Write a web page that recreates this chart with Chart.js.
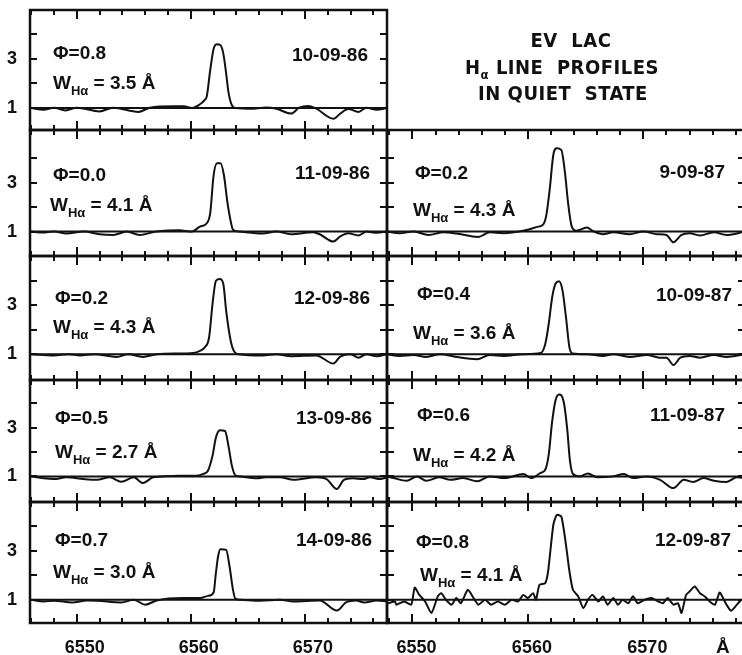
<!DOCTYPE html>
<html><head><meta charset="utf-8">
<script src="https://cdn.jsdelivr.net/npm/chart.js@4/dist/chart.umd.min.js"></script>
<style>
html,body{margin:0;padding:0;background:#fff;}
body{width:742px;height:655px;overflow:hidden;position:relative;
 font-family:'Liberation Sans',Arial,sans-serif;font-weight:bold;color:#111;}
canvas{position:absolute;}
.t{position:absolute;font-size:19px;line-height:20px;white-space:nowrap;}
.t sub{font-size:13px;vertical-align:-6px;line-height:0;}
.ttl{position:absolute;font-family:'DejaVu Sans Condensed','DejaVu Sans',sans-serif;font-size:20px;line-height:20px;white-space:nowrap;transform:translateX(-50%);letter-spacing:0.5px;}
</style></head>
<body>
<script>
// ---------- DATA (wavelength in Å, flux relative to continuum) ----------
const xTickValues = [6550, 6560, 6570];
const xMinorStep = 2;
const yTickLabels = [1, 3];
const yTickMarks = [1, 2, 3, 4];
const continuum = 1;

const dates  = ["10-09-86","11-09-86","12-09-86","13-09-86","14-09-86","9-09-87","10-09-87","11-09-87","12-09-87"];
const phases = ["0.8","0.0","0.2","0.5","0.7","0.2","0.4","0.6","0.8"];
const widths = ["3.5","4.1","4.3","2.7","3.0","4.3","3.6","4.2","4.1"];

const wl_100986 = [6546.0,6547.1,6548.0,6549.0,6550.0,6552.0,6553.2,6555.4,6556.4,6558.5,6559.4,6560.1,6560.8,6561.2,6561.4,6561.7,6562.0,6562.3,6562.6,6562.85,6563.1,6563.3,6563.6,6563.9,6565.5,6566.6,6567.5,6568.8,6569.5,6570.3,6571.0,6572.5,6573.1,6573.8,6574.7,6575.4,6576.3,6577.2];
const fx_100986 = [1.0,0.93,1.01,0.9,1.01,0.86,1.01,0.84,1.01,1.07,1.07,1.0,1.15,1.32,1.48,2.54,3.42,3.6,3.56,3.22,2.4,1.65,1.11,1.0,0.97,1.02,0.97,0.77,1.01,1.08,0.97,0.56,0.77,0.96,0.84,1.01,0.93,1.0];

const wl_110986 = [6546.0,6547.0,6548.0,6549.1,6550.6,6552.0,6553.2,6554.4,6555.5,6557.0,6559.0,6560.1,6560.8,6561.4,6561.7,6562.0,6562.3,6562.6,6562.9,6563.2,6563.5,6563.7,6564.2,6566.3,6567.5,6568.8,6570.7,6571.3,6572.5,6573.1,6573.8,6574.7,6575.4,6576.3,6577.2];
const fx_110986 = [1.0,0.96,1.0,0.92,1.0,0.89,0.86,1.0,0.86,1.0,1.05,1.0,1.2,1.34,1.75,3.31,3.79,3.79,3.31,2.22,1.41,1.07,1.0,0.92,1.0,0.89,0.97,0.89,0.59,0.8,0.93,0.84,1.0,0.95,1.0];

const wl_120986 = [6546.0,6548.0,6549.3,6550.3,6551.5,6553.5,6554.5,6555.8,6557.0,6559.0,6560.2,6560.8,6561.2,6561.6,6561.9,6562.2,6562.55,6562.85,6563.1,6563.5,6563.8,6564.2,6566.3,6567.5,6568.8,6571.0,6572.5,6573.1,6574.0,6574.7,6575.4,6576.3,6577.2];
const fx_120986 = [1.0,0.95,1.0,0.95,1.0,0.89,1.0,0.89,1.0,1.03,1.05,1.14,1.27,1.68,3.04,3.99,4.06,3.86,2.77,1.54,1.11,1.0,0.95,1.0,0.92,0.95,0.62,0.9,1.0,0.86,1.0,0.92,1.0];

const wl_130986 = [6546.0,6547.1,6548.0,6549.1,6550.6,6551.75,6552.9,6553.9,6555.0,6555.8,6556.7,6559.0,6560.5,6561.1,6561.5,6561.9,6562.2,6562.55,6563.0,6563.3,6563.6,6563.9,6564.3,6565.8,6566.6,6567.8,6569.0,6571.0,6571.9,6572.8,6573.4,6574.2,6575.1,6575.7,6576.6,6577.2];
const fx_130986 = [1.0,0.92,0.89,0.96,0.89,0.86,0.96,0.78,0.96,0.73,0.96,1.03,1.03,1.1,1.23,1.84,2.59,2.89,2.86,2.25,1.44,1.05,1.0,0.92,0.96,0.96,0.86,0.96,0.89,0.48,0.85,0.92,0.89,0.96,0.89,0.96];

const wl_140986 = [6546.0,6547.1,6548.0,6549.6,6550.9,6551.8,6553.9,6555.0,6556.0,6557.0,6559.3,6560.8,6561.5,6562.0,6562.2,6562.4,6562.6,6563.1,6563.4,6563.7,6563.9,6564.4,6566.1,6567.8,6569.0,6571.3,6572.8,6573.6,6574.5,6575.2,6576.3,6577.2];
const fx_140986 = [1.0,0.93,0.96,0.89,0.97,0.96,0.89,1.0,0.8,0.97,1.07,1.07,1.16,1.3,2.1,2.8,3.07,3.04,2.35,1.4,1.05,1.0,0.96,1.0,0.93,0.97,0.56,0.89,0.97,0.89,0.97,0.93];

const wl_090987 = [6547.8,6548.9,6550.1,6551.4,6552.7,6553.8,6555.7,6556.7,6557.9,6559.6,6560.9,6561.35,6561.6,6561.9,6562.2,6562.5,6562.9,6563.2,6563.5,6563.8,6564.2,6565.1,6565.7,6566.5,6567.4,6568.8,6570.0,6571.2,6572.0,6572.6,6573.3,6574.0,6574.9,6576.1,6577.2,6578.8];
const fx_090987 = [1.0,0.93,1.0,0.86,0.97,0.92,0.78,0.97,0.93,1.03,1.2,1.3,1.68,2.77,4.13,4.4,4.33,3.45,2.09,1.2,1.03,1.16,1.0,0.89,0.97,0.89,1.0,0.89,0.86,0.56,0.86,0.93,0.84,0.97,0.86,1.0];

const wl_100987 = [6547.8,6548.9,6550.1,6551.2,6552.4,6553.7,6555.6,6556.7,6557.9,6559.6,6561.1,6561.5,6561.8,6562.1,6562.4,6562.7,6563.0,6563.3,6563.6,6563.9,6565.1,6566.5,6567.4,6568.8,6570.3,6571.4,6572.0,6572.6,6573.2,6574.0,6574.9,6576.1,6577.2,6578.8];
const fx_100987 = [1.0,0.93,0.97,0.89,1.0,0.9,0.8,0.97,0.93,1.0,1.05,1.41,2.22,3.31,3.88,3.97,3.59,2.5,1.27,1.03,1.0,0.93,1.0,0.89,0.97,0.86,0.86,0.56,0.86,0.93,0.86,0.97,0.89,1.0];

const wl_110987 = [6547.8,6548.4,6549.5,6550.4,6551.2,6552.3,6553.3,6554.4,6555.6,6556.7,6558.0,6559.6,6560.3,6561.1,6561.5,6561.8,6562.1,6562.4,6562.7,6563.1,6563.4,6563.65,6563.9,6564.5,6565.2,6566.0,6567.4,6568.3,6569.1,6570.3,6571.45,6572.6,6573.5,6574.3,6575.2,6576.1,6577.2,6578.1,6578.8];
const fx_110987 = [1.0,0.93,0.82,1.0,0.82,0.96,0.86,0.93,0.8,1.0,0.93,1.1,0.93,1.14,1.27,1.88,3.24,4.13,4.36,4.06,2.97,1.61,1.1,1.0,1.12,0.96,1.0,1.1,0.93,1.0,0.86,0.52,0.86,0.77,0.93,0.82,0.77,0.96,0.93];

const wl_120987 = [6547.9,6548.5,6548.6,6549.3,6549.9,6550.2,6550.6,6551.1,6551.65,6552.2,6552.5,6552.9,6553.4,6553.8,6554.2,6554.8,6555.3,6555.7,6556.3,6556.8,6557.4,6558.0,6558.6,6559.15,6559.6,6560.0,6560.45,6560.7,6561.0,6561.5,6561.75,6562.2,6562.5,6562.9,6563.3,6563.6,6563.9,6564.35,6564.8,6565.2,6565.6,6566.1,6566.5,6566.9,6567.4,6567.8,6568.2,6568.7,6569.1,6569.5,6570.1,6570.7,6571.3,6571.7,6572.1,6572.6,6573.0,6573.3,6573.7,6574.0,6574.45,6574.9,6575.3,6575.75,6576.2,6576.6,6576.9,6577.2,6577.6,6578.1,6578.5,6578.8];
const fx_120987 = [0.86,0.93,0.8,0.93,0.8,1.5,1.2,0.93,0.46,1.14,1.27,1.0,0.8,1.07,0.86,1.41,1.07,0.8,1.0,0.8,0.93,0.8,1.0,0.93,1.2,1.07,1.27,1.0,1.61,1.68,2.16,4.06,4.47,4.4,3.24,2.16,1.41,1.14,0.66,1.0,1.2,0.93,1.14,0.8,1.07,0.8,1.0,0.86,1.14,0.86,1.0,1.07,0.93,0.86,1.07,0.8,0.86,0.46,1.2,1.34,1.54,1.27,1.14,0.93,0.8,1.3,1.07,0.8,0.55,0.8,1.0,0.93];

// ---------- LAYOUT ----------
const rowTop = [10,130,256,380,502], rowBot = [130,256,380,502,623];
const rowY = [[0.1,5.0],[0.0,5.15],[-0.05,5.0],[-0.05,4.95],[0.05,5.0]];
const colX = [{left:30,right:387,min:6545.9,max:6577.2,lblOff:8},{left:387,right:745,min:6547.8,max:6578.8,lblOff:4}];
const panels = [
 {col:0,row:0,wl:wl_100986,fx:fx_100986,i:0, ph:[53,53], w:[53,83], d:[368,55]},
 {col:0,row:1,wl:wl_110986,fx:fx_110986,i:1, ph:[53,175], w:[50,205], d:[370,173]},
 {col:0,row:2,wl:wl_120986,fx:fx_120986,i:2, ph:[55,298], w:[53,327], d:[370,298]},
 {col:0,row:3,wl:wl_130986,fx:fx_130986,i:3, ph:[55,418], w:[55,452], d:[372,418]},
 {col:0,row:4,wl:wl_140986,fx:fx_140986,i:4, ph:[55,540], w:[53,572], d:[372,540]},
 {col:1,row:1,wl:wl_090987,fx:fx_090987,i:5, ph:[415,173], w:[413,210], d:[725,172]},
 {col:1,row:2,wl:wl_100987,fx:fx_100987,i:6, ph:[417,294], w:[413,333], d:[732,295]},
 {col:1,row:3,wl:wl_110987,fx:fx_110987,i:7, ph:[417,415], w:[413,455], d:[725,415]},
 {col:1,row:4,wl:wl_120987,fx:fx_120987,i:8, ph:[416,542], w:[420,575], d:[731,540], jagged:true}
];

const INK = '#111';
const FONT = "'Liberation Sans',Arial,sans-serif";

// frame around each panel's plot area
const framePlugin = {
  id:'frame',
  afterDraw(chart){
    const ctx = chart.ctx, a = chart.chartArea;
    ctx.save();
    ctx.strokeStyle = INK; ctx.lineWidth = 2.5;
    ctx.strokeRect(a.left, a.top, a.right-a.left, a.bottom-a.top);
    ctx.restore();
  }
};

// zero-size axis that only draws inward tick marks through the library's grid
function tickAxis(axis, position, min, max, values, len){
  return {
    type:'linear', axis, position, min, max, weight:-5, display:true,
    ticks:{display:false, autoSkip:false},
    grid:{display:true, drawOnChartArea:false, drawTicks:true, tickLength:-len,
          lineWidth:2, tickWidth:2, color:INK, tickColor:INK},
    border:{display:false},
    afterBuildTicks:s=>{ s.ticks = values.map(v=>({value:v})); },
    afterFit:s=>{ if(axis==='x') s.height=0; else s.width=0;
                  s.paddingLeft=0; s.paddingRight=0; s.paddingTop=0; s.paddingBottom=0; }
  };
}

panels.forEach(p=>{
  const c = colX[p.col];
  const isLeft = p.col===0, isBottom = p.row===4;
  const padL = isLeft?0:3, padR = isLeft?3:0, padT = 3, padB = isBottom?0:3;
  const yAxisW = isLeft?30:0, xAxisH = isBottom?32:0;
  const ymin = rowY[p.row][0], ymax = rowY[p.row][1];
  const minor = [], major = [];
  for(let v=Math.ceil(c.min/xMinorStep)*xMinorStep; v<=c.max; v+=xMinorStep){
    (v%10===0 ? major : minor).push(v);
  }
  const cv = document.createElement('canvas');
  const W = padL + yAxisW + (c.right-c.left) + padR;
  const H = padT + (rowBot[p.row]-rowTop[p.row]) + xAxisH + padB;
  cv.width = W; cv.height = H;
  cv.style.left = (c.left - yAxisW - padL) + 'px';
  cv.style.top = (rowTop[p.row] - padT) + 'px';
  cv.style.width = W+'px'; cv.style.height = H+'px';
  document.body.appendChild(cv);
  new Chart(cv, {
    type:'line',
    data:{datasets:[
      {data:p.wl.map((w,k)=>({x:w,y:p.fx[k]})), borderColor:INK, borderWidth:2, pointRadius:0,
       cubicInterpolationMode: p.jagged?'default':'monotone', tension: p.jagged?0.2:0.4, fill:false},
      {data:[{x:c.min,y:continuum},{x:c.max,y:continuum}], borderColor:INK, borderWidth:2, pointRadius:0, fill:false}
    ]},
    options:{
      animation:false, responsive:false, maintainAspectRatio:false, devicePixelRatio:1,
      layout:{padding:{left:padL,right:padR,top:padT,bottom:padB}},
      plugins:{legend:{display:false},tooltip:{enabled:false},title:{display:false}},
      scales:{
        x:{type:'linear', min:c.min, max:c.max, display:isBottom,
           grid:{display:false,drawTicks:false}, border:{display:false},
           afterBuildTicks:s=>{s.ticks = xTickValues.map(v=>({value:v}));},
           afterFit:s=>{s.height = xAxisH; s.paddingLeft=0; s.paddingRight=0; s.paddingTop=0; s.paddingBottom=0;},
           ticks:{autoSkip:false, maxRotation:0, minRotation:0, padding:14, labelOffset:c.lblOff, color:INK,
                  font:{family:FONT,size:18,weight:'bold'}, callback:v=>String(v)}},
        y:{type:'linear', min:ymin, max:ymax, display:isLeft,
           grid:{display:false,drawTicks:false}, border:{display:false},
           afterBuildTicks:s=>{s.ticks = yTickLabels.map(v=>({value:v}));},
           afterFit:s=>{s.width = yAxisW; s.paddingLeft=0; s.paddingRight=0; s.paddingTop=0; s.paddingBottom=0;},
           ticks:{autoSkip:false, padding:13, color:INK,
                  font:{family:FONT,size:18,weight:'bold'}, callback:v=>String(v)}},
        xMinB: tickAxis('x','bottom',c.min,c.max,minor,5),
        xMajB: tickAxis('x','bottom',c.min,c.max,major,9),
        xMinT: tickAxis('x','top',c.min,c.max,minor,5),
        xMajT: tickAxis('x','top',c.min,c.max,major,9),
        yTkL:  tickAxis('y','left',ymin,ymax,yTickMarks,7),
        yTkR:  tickAxis('y','right',ymin,ymax,yTickMarks,7)
      }
    },
    plugins:[framePlugin]
  });
  const ph = document.createElement('div'); ph.className='t';
  ph.textContent = 'Φ=' + phases[p.i];
  ph.style.left = p.ph[0]+'px'; ph.style.top = (p.ph[1]-10)+'px';
  document.body.appendChild(ph);
  const w = document.createElement('div'); w.className='t';
  w.innerHTML = 'W<sub>Hα</sub> = ' + widths[p.i] + ' Å';
  w.style.left = p.w[0]+'px'; w.style.top = (p.w[1]-10)+'px';
  document.body.appendChild(w);
  const d = document.createElement('div'); d.className='t';
  d.textContent = dates[p.i];
  d.style.right = (742-p.d[0])+'px'; d.style.top = (p.d[1]-10)+'px';
  document.body.appendChild(d);
});
</script>
<div class="ttl" style="left:571px;top:30px;">EV&nbsp; LAC</div>
<div class="ttl" style="left:562px;top:57px;">H<sub style="font-size:13px;vertical-align:-5px;line-height:0;">α</sub> LINE&nbsp; PROFILES</div>
<div class="ttl" style="left:563px;top:83px;">IN QUIET&nbsp; STATE</div>
<div class="t" style="left:716px;top:637px;">Å</div>
</body></html>
